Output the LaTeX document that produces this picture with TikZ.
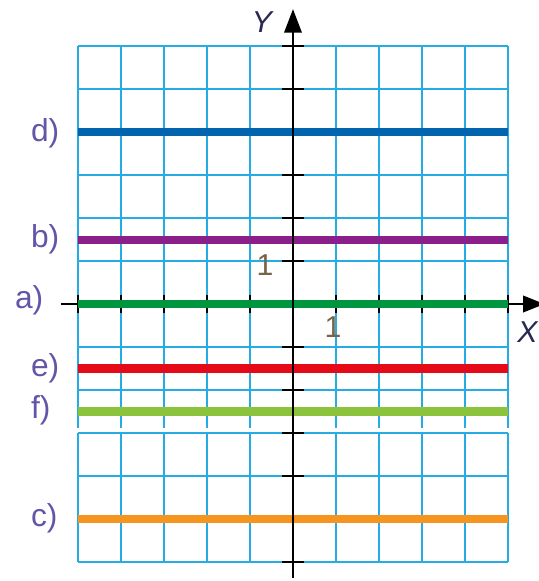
\documentclass[tikz,border=0pt]{standalone}
\usepackage{fontspec}
\setmainfont{Liberation Sans}
\usetikzlibrary{arrows.meta}
\definecolor{gridc}{RGB}{38,172,228}
\definecolor{labc}{RGB}{98,86,168}
\definecolor{numc}{RGB}{120,100,70}
\definecolor{axc}{RGB}{40,40,80}
\definecolor{dcol}{RGB}{0,100,175}
\definecolor{bcol}{RGB}{140,30,140}
\definecolor{acol}{RGB}{0,150,64}
\definecolor{ecol}{RGB}{230,10,25}
\definecolor{fcol}{RGB}{140,195,60}
\definecolor{ccol}{RGB}{245,148,30}
\tikzset{
  gridline/.style={gridc,line width=1.9pt},
  axisline/.style={black,line width=1.9pt},
  tickline/.style={black,line width=1.7pt},
  colline/.style={line width=5.3pt},
  lab/.style={text=labc,font=\fontsize{21}{25}\selectfont,inner sep=0pt,anchor=west},
  numlab/.style={text=numc,font=\fontsize{20}{24}\selectfont,inner sep=0pt},
  axlab/.style={text=axc,font=\fontsize{20}{24}\selectfont\itshape,inner sep=0pt}
}
\begin{document}
\begin{tikzpicture}[x=1cm,y=1cm]
\useasboundingbox (-6.814,-6.442) rectangle (5.721,7.070);
% upper grid
\foreach \x in {-5,...,5} \draw[gridline] (\x,-2.88) -- (\x,6);
\foreach \y in {-2,...,6} \draw[gridline] (-5,\y) -- (5,\y);
% lower grid
\draw[gridline] (-5,-6) grid (5,-3);
% x axis and ticks
\coordinate (xs) at (-5.4,0);
\coordinate (xe) at (5.85,0);
\draw[axisline,-{Triangle[length=0.5cm,width=0.38cm]}] (xs) -- (xe);
\foreach \x in {-5,...,5} \draw[tickline] (\x,-0.22) -- (\x,0.22);
% y ticks
\foreach \y in {-6,...,-1,1,2,...,6} \draw[tickline] (-0.25,\y) -- (0.25,\y);
% coloured lines
\draw[colline,dcol] (-5,4) -- (5,4);
\draw[colline,bcol] (-5,1.5) -- (5,1.5);
\draw[colline,acol] (-5,0) -- (5,0);
\draw[colline,ecol] (-5,-1.5) -- (5,-1.5);
\draw[colline,fcol] (-5,-2.5) -- (5,-2.5);
\draw[colline,ccol] (-5,-5) -- (5,-5);
% y axis
\coordinate (ys) at (0,-6.37);
\coordinate (ye) at (0,6.86);
\draw[axisline,-{Triangle[length=0.55cm,width=0.4cm]}] (ys) -- (ye);
% labels
\node[lab] (ld) at (-6.1,3.98) {d)};
\node[lab] (lb) at (-6.1,1.51) {b)};
\node[lab] (la) at (-6.47,0.09) {a)};
\node[lab] (le) at (-6.1,-1.49) {e)};
\node[lab] (lf) at (-6.1,-2.47) {f)};
\node[lab] (lc) at (-6.1,-4.98) {c)};
\node[numlab] (oney) at (-0.65,0.91) {1};
\node[numlab] (onex) at (0.93,-0.53) {1};
\node[axlab] (ylab) at (-0.72,6.56) {Y};
\node[axlab] (xlab) at (5.45,-0.65) {X};
\end{tikzpicture}
\end{document}
